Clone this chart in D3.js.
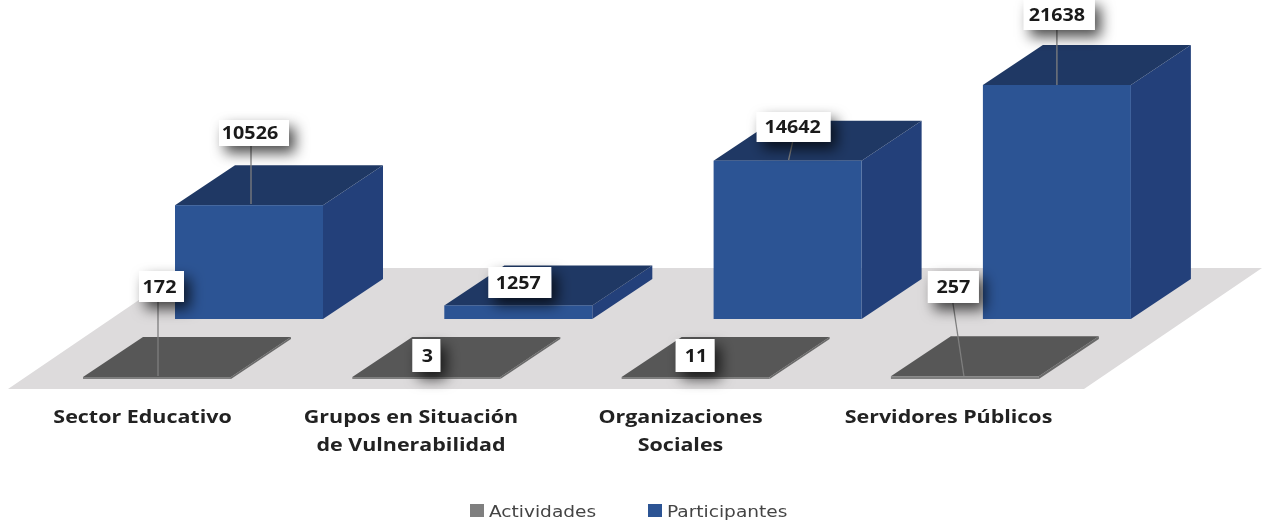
<!DOCTYPE html>
<html><head><meta charset="utf-8">
<script src="https://cdn.jsdelivr.net/npm/d3@7/dist/d3.min.js"></script>
<style>html,body{margin:0;padding:0;background:#fff;overflow:hidden}svg{display:block;filter:blur(.6px)}</style>
</head><body><svg id="c" width="1262" height="524"></svg>
<script>
const categories=[["Sector Educativo"],["Grupos en Situación","de Vulnerabilidad"],["Organizaciones","Sociales"],["Servidores Públicos"]];
const actividades=[172,3,11,257];
const participantes=[10526,1257,14642,21638];
const seriesNames=["Actividades","Participantes"];
// manually placed data-label callouts, relative to each bar's front-bottom-left corner
const labelBoxes={
 Actividades:[{x:56,y:-108,w:45,h:31,tdx:-2,lx0:75,ly0:-77,lx1:75,ly1:-3},{x:60,y:-40,w:28,h:33,tdx:1},{x:54,y:-40,w:39,h:33,tdx:1},{x:37,y:-108,w:51,h:32,tdx:0,lx0:62,ly0:-76,lx1:73,ly1:-3}],
 Participantes:[{x:44,y:-199,w:70,h:26,tdx:-4,lx0:76,ly0:-173,lx1:76,ly1:-115},{x:44,y:-52,w:63,h:31,tdx:-1.5},{x:43,y:-207,w:74,h:30,tdx:-1,lx0:79,ly0:-177,lx1:75,ly1:-159},{x:41,y:-320,w:71,h:31,tdx:-2.5,lx0:74,ly0:-289,lx1:74,ly1:-234}]
};
const W=148,DX=60,DY=-40,STEP=269.3,STRETCH=1.16;
const xAct=d3.scaleBand().domain(d3.range(4)).range([83,83+STEP*4]);
const xPart=d3.scaleBand().domain(d3.range(4)).range([175,175+STEP*4]);
const yH=d3.scaleLinear().domain([0,21638]).range([0,234]);
const svg=d3.select("#c");
const defs=svg.append("defs");
defs.append("filter").attr("id","sh").attr("x","-60%").attr("y","-60%").attr("width","240%").attr("height","260%")
 .append("feDropShadow").attr("dx",6).attr("dy",7).attr("stdDeviation",7).attr("flood-color","#000").attr("flood-opacity",.7);
svg.append("polygon").attr("points","8,389 1084,389 1262,268 186,268").attr("fill","#dddbdc");
function box(g,x0,base,h,c){
 const p=a=>a.map(d=>d.join(",")).join(" ");
 const x1=x0+W,t=base-h;
 g.append("polygon").attr("points",p([[x1,base],[x1+DX,base+DY],[x1+DX,t+DY],[x1,t]])).attr("fill",c[2]);
 g.append("polygon").attr("points",p([[x0,t],[x1,t],[x1+DX,t+DY],[x0+DX,t+DY]])).attr("fill",c[1]);
 g.append("rect").attr("x",x0).attr("y",t).attr("width",W).attr("height",h).attr("fill",c[0]);
}
const actC=["#7f7f7f","#575757","#6a6a6a"],partC=["#2c5494","#1f3864","#23407a"];
const gA=svg.append("g"),gP=svg.append("g");
actividades.forEach((v,i)=>box(gA,xAct(i),379,Math.max(2,yH(v)),actC));
participantes.forEach((v,i)=>box(gP,xPart(i),319,yH(v),partC));
function stretched(sel,x,y){return sel.attr("transform",`translate(${x},${y}) scale(${STRETCH},1)`);}
const gL=svg.append("g");
function labels(vals,xs,base,boxes){
 vals.forEach((v,i)=>{
  const b=boxes[i],x0=xs(i);
  if(b.lx0!==undefined) gL.append("line").attr("x1",x0+b.lx0).attr("y1",base+b.ly0).attr("x2",x0+b.lx1).attr("y2",base+b.ly1).attr("stroke","#7f7f7f").attr("stroke-width",1.3);
  gL.append("rect").attr("x",x0+b.x).attr("y",base+b.y).attr("width",b.w).attr("height",b.h).attr("fill","#fff").attr("filter","url(#sh)");
  stretched(gL.append("text"),x0+b.x+b.w/2+b.tdx,base+b.y+b.h/2+6).attr("text-anchor","middle")
   .attr("font-family","'Open Sans',sans-serif").attr("font-weight",700).attr("font-size",17).attr("fill","#1a1a1a").text(v);
 });
}
labels(actividades,xAct,379,labelBoxes.Actividades);
labels(participantes,xPart,319,labelBoxes.Participantes);
const catCx=[142.5,411,680.5,948.5];
categories.forEach((ls,i)=>{
 ls.forEach((s,j)=>stretched(svg.append("text"),catCx[i],423+j*28).attr("text-anchor","middle")
  .attr("font-family","'Open Sans',sans-serif").attr("font-weight",700).attr("font-size",18.5).attr("fill","#222").text(s));
});
const legX=[470,648],legC=["#7f7f7f","#2c5494"];
seriesNames.forEach((s,i)=>{
 svg.append("rect").attr("x",legX[i]).attr("y",504).attr("width",14).attr("height",13).attr("fill",legC[i]);
 stretched(svg.append("text"),legX[i]+19,517).attr("font-family","'DejaVu Sans',sans-serif").attr("font-size",16).attr("fill","#444").text(s);
});
</script></body></html>
